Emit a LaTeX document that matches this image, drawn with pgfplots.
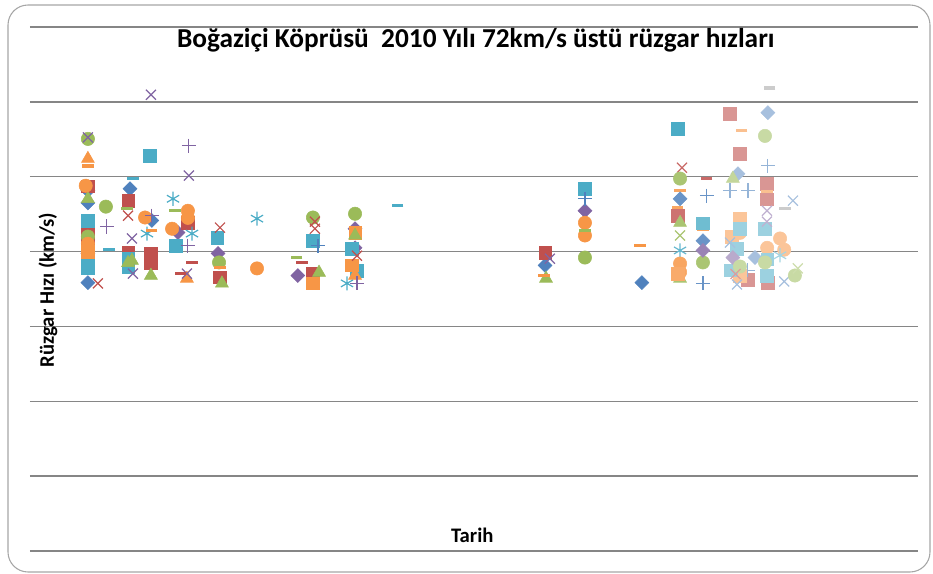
\documentclass[border=0pt]{standalone}
\usepackage{pgfplots}
\pgfplotsset{compat=1.18}
\usepackage{fontspec}
\setmainfont{Carlito}
\definecolor{cb}{HTML}{4F81BD}
\definecolor{cr}{HTML}{C0504D}
\definecolor{cg}{HTML}{9BBB59}
\definecolor{cp}{HTML}{8064A2}
\definecolor{ct}{HTML}{4BACC6}
\definecolor{co}{HTML}{F79646}
\definecolor{gridgray}{HTML}{868686}
\definecolor{framegray}{HTML}{A6A6A6}
\pgfplotsset{
  dia/.style={only marks, mark=square*, mark size=3.7pt, mark options={rotate=45}},
  sq/.style={only marks, mark=square*, mark size=4.7pt},
  tri/.style={only marks, mark=triangle*, mark size=5.6pt},
  circ/.style={only marks, mark=*, mark size=5pt},
  xx/.style={only marks, mark=x, mark size=5.3pt, mark options={line width=0.9pt}},
  pl/.style={only marks, mark=+, mark size=5.3pt, mark options={line width=0.9pt}},
  ast/.style={only marks, mark=asterisk, mark size=5.3pt, mark options={line width=0.9pt}},
  ds/.style={only marks, mark=-, mark size=4.2pt, mark options={line width=2.5pt}},
}
\begin{document}
\begin{tikzpicture}
\begin{axis}[
  name=ax,
  scale only axis,
  width=666pt, height=393pt,
  xmin=0, xmax=365,
  ymin=0, ymax=140,
  ytick={0,20,...,140},
  yticklabels={},
  xtick=\empty,
  ymajorgrids,
  grid style={draw=gridgray, line width=1pt},
  axis line style={draw=none},
  major tick length=0pt,
  clip=false,
]
% sol taraf (ocak - mayis), temel renkler
\addplot[dia, cb] coordinates {(23.8,96.3) (23.8,71.7) (41.1,96.8) (50.1,88.3) (211.7,76.3) (251.5,71.7) (23.8,93.0)};
\addplot[dia, cp] coordinates {(23.8,79.5) (60.8,85.1) (77.3,79.5) (110.1,73.6) (133.6,86.1) (228.1,90.9) (133.6,81.0)};
\addplot[sq, cr] coordinates {(23.8,97.5) (23.8,86.4) (23.8,83.7) (40.3,93.6) (40.3,79.7) (49.7,79.5) (64.9,87.7) (78.1,73.1) (116.3,74.1) (211.7,79.7) (49.7,77.0)};
\addplot[sq, ct] coordinates {(49.3,105.6) (23.8,88.3) (23.8,76.8) (23.8,75.5) (40.3,78.1) (60.0,81.6) (76.9,83.7) (116.3,82.9) (132.3,80.8) (134.4,74.9) (228.1,96.8) (40.3,76.0)};
\addplot[sq, co] coordinates {(116.3,71.5) (132.3,76.3) (133.6,85.0) (23.8,80.0)};
\addplot[tri, cg] coordinates {(23.8,94.1) (41.9,77.6) (49.7,73.6) (78.9,71.5) (118.8,74.4) (133.6,84.3) (212.1,72.8) (40.3,77.0)};
\addplot[tri, co] coordinates {(23.8,104.8) (64.5,72.8) (133.6,73.6)};
\addplot[circ, cg] coordinates {(23.8,110.1) (31.2,92.0) (77.7,77.1) (116.3,89.1) (133.6,90.1) (228.1,78.4) (23.8,84.0)};
\addplot[circ, co] coordinates {(22.9,97.6) (23.8,82.1) (47.3,89.1) (64.9,90.9) (58.4,86.1) (93.3,75.5) (228.1,87.7) (228.1,84.3) (64.9,89.0)};
\addplot[xx, cp] coordinates {(49.7,121.9) (41.9,83.5) (42.3,74.1) (65.3,100.3) (64.5,74.1) (213.7,78.1) (23.8,110.5)};
\addplot[xx, cr] coordinates {(27.9,71.5) (40.3,89.6) (78.1,86.4) (117.1,86.1) (134.4,78.9) (117.1,88.0)};
\addplot[pl, cp] coordinates {(31.6,86.7) (50.1,89.6) (65.3,108.3) (64.9,81.6) (134.4,71.5)};
\addplot[pl, cb] coordinates {(118.4,81.6) (228.1,94.1)};
\addplot[ast, ct] coordinates {(58.8,94.1) (66.6,84.8) (48.1,84.8) (93.3,88.8) (130.3,71.5)};
\addplot[ds, ct] coordinates {(32.5,80.5) (42.3,99.5) (151.2,92.3)};
\addplot[ds, cg] coordinates {(39.9,91.5) (59.6,90.9) (109.7,78.4) (228.1,85.6)};
\addplot[ds, co] coordinates {(23.8,102.9) (50.1,85.6) (78.1,75.7) (211.3,73.6) (250.7,81.6)};
\addplot[ds, cr] coordinates {(66.6,77.1) (61.7,74.1) (111.8,77.1)};
% eylul - ekim
\addplot[sq, ct] coordinates {(266.3,112.8)};
\addplot[xx, cr!85!white] coordinates {(268.0,102.4)};
\addplot[circ, cg!85!white] coordinates {(267.2,99.5) (276.6,77.1)};
\addplot[ds, co!85!white] coordinates {(267.2,96.3) (266.3,91.7) (276.6,86.0)};
\addplot[dia, cb!85!white] coordinates {(267.2,94.1) (276.6,82.9)};
\addplot[sq, cr!80!white] coordinates {(266.3,89.6)};
\addplot[tri, cg!85!white] coordinates {(267.2,87.7) (267.2,72.8)};
\addplot[xx, cg!85!white] coordinates {(267.2,84.3)};
\addplot[ast, ct!85!white] coordinates {(267.2,80.3)};
\addplot[circ, co!85!white] coordinates {(267.2,76.8) (267.2,74.5)};
\addplot[sq, co!80!white] coordinates {(266.3,74.1)};
\addplot[ds, cr!85!white] coordinates {(278.2,99.5)};
\addplot[pl, cb!85!white] coordinates {(278.2,94.9) (276.6,71.5)};
\addplot[sq, ct!80!white] coordinates {(276.6,87.5)};
\addplot[dia, cp!80!white] coordinates {(276.6,80.3)};
% ekim - kasim, acik tonlar
\addplot[sq, cr!60!white] coordinates {(287.7,116.8) (291.8,106.1) (302.9,98.1) (302.9,94.0) (303.3,71.7) (295.0,72.5)};
\addplot[ds, co!60!white] coordinates {(292.6,112.3) (302.9,96.0)};
\addplot[dia, cb!50!white] coordinates {(291.0,100.8) (298.0,78.4) (303.3,117.1)};
\addplot[tri, cg!60!white] coordinates {(288.9,99.5) (291.8,73.0)};
\addplot[pl, cb!60!white] coordinates {(287.7,96.3) (295.1,96.3) (303.3,102.9) (295.0,75.0)};
\addplot[sq, co!55!white] coordinates {(291.8,88.8) (291.8,73.6) (288.5,84.0)};
\addplot[circ, co!55!white] coordinates {(291.8,85.0) (308.3,83.5) (303.0,81.0) (310.0,80.5)};
\addplot[sq, ct!55!white] coordinates {(291.8,86.1) (290.6,80.8) (288.0,75.0) (302.1,86.1) (302.9,73.6) (303.0,78.0)};
\addplot[xx, cb!50!white] coordinates {(287.7,82.4) (290.6,71.2) (313.6,93.6) (310.0,72.0)};
\addplot[dia, cp!55!white] coordinates {(288.9,78.4)};
\addplot[circ, cg!55!white] coordinates {(291.8,76.0) (302.1,110.9) (302.1,77.1) (314.4,73.6)};
\addplot[xx, cr!55!white] coordinates {(290.0,74.0)};
\addplot[ds, gray!40!white] coordinates {(304.1,123.7) (310.3,91.5)};
\addplot[xx, cp!50!white] coordinates {(302.9,90.9) (302.9,88.0)};
\addplot[ast, ct!50!white] coordinates {(308.3,79.0)};
\addplot[xx, cg!50!white] coordinates {(315.6,75.5)};
% yazilar
\node[font=\bfseries\fontsize{20.5}{24}\selectfont] at (rel axis cs:0.502,0.975) {Boğaziçi Köprüsü\ \ 2010 Yılı 72km/s üstü rüzgar hızları};
\node[rotate=90, font=\bfseries\fontsize{15.5}{18}\selectfont] at (rel axis cs:0.0203,0.498) {Rüzgar Hızı (km/s)};
\node[font=\bfseries\fontsize{15.5}{18}\selectfont] at (rel axis cs:0.498,0.0305) {Tarih};
\end{axis}
\draw[framegray, line width=0.8pt, rounded corners=15pt]
  ([xshift=-16.5pt,yshift=-15.75pt]ax.south west) rectangle ([xshift=9pt,yshift=16.5pt]ax.north east);
\pgfresetboundingbox
\useasboundingbox ([xshift=-22.5pt,yshift=-17.25pt]ax.south west) rectangle ([xshift=11.25pt,yshift=20.25pt]ax.north east);
\end{tikzpicture}
\end{document}
